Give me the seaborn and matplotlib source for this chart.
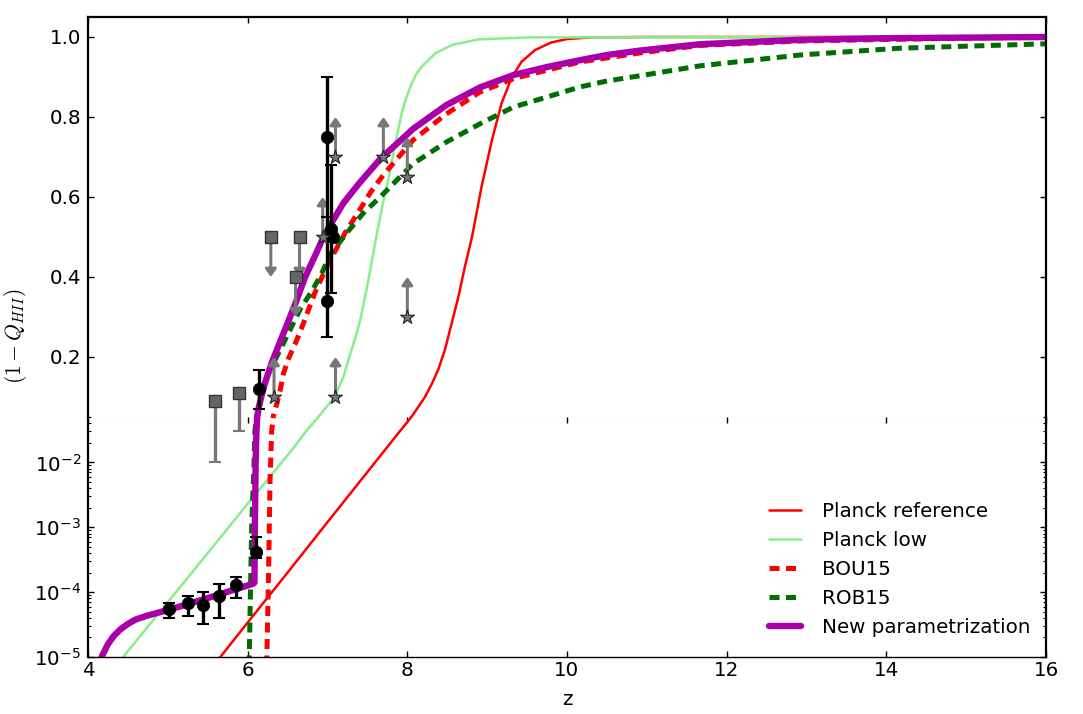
import numpy as np
import matplotlib
matplotlib.use("Agg")
import matplotlib.pyplot as plt
import seaborn as sns

# ---------------- data ----------------
planck_ref_z = [5.55, 6.0, 6.5, 7.0, 7.5, 7.9, 8.05, 8.14, 8.22, 8.31, 8.39, 8.47, 8.55,
                8.64, 8.72, 8.81, 8.93, 9.06, 9.18, 9.31, 9.43, 9.60, 9.8, 10.0, 10.3,
                11.0, 16.0]
planck_ref_v = [6.8e-6, 3.4e-5, 2.0e-4, 1.2e-3, 7.1e-3, 0.0295, 0.05, 0.076, 0.10, 0.134,
                0.17, 0.2175, 0.28, 0.351, 0.425, 0.50, 0.626, 0.7425, 0.834, 0.90, 0.938,
                0.9675, 0.986, 0.995, 0.999, 1.0, 1.0]

planck_low_z = [4.35, 4.44, 5.0, 5.5, 6.0, 6.55, 6.74, 6.885, 6.99, 7.09, 7.20, 7.30,
                7.36, 7.41, 7.46, 7.51, 7.56, 7.62, 7.70, 7.78, 7.85, 7.93, 7.99, 8.05,
                8.11, 8.18, 8.35, 8.56, 8.89, 9.52, 16.0]
planck_low_v = [7.3e-6, 1.0e-5, 7.0e-5, 4.0e-4, 2.3e-3, 0.0153, 0.031, 0.05, 0.076, 0.10,
                0.151, 0.2175, 0.255, 0.2925, 0.34, 0.39, 0.445, 0.51, 0.59, 0.66, 0.735,
                0.81, 0.85, 0.882, 0.907, 0.926, 0.959, 0.98, 0.994, 0.999, 1.0]

bou15_z = [6.23, 6.24, 6.26, 6.28, 6.30, 6.32, 6.36, 6.40, 6.45, 6.52, 6.61, 6.70, 6.84,
           7.0, 7.22, 7.41, 7.55, 7.70, 8.07, 8.49, 8.91, 9.33, 9.75, 10.16, 10.91, 11.67,
           12.92, 14.6, 16.0]
bou15_v = [1e-7, 1.0e-5, 1.5e-4, 5.0e-3, 0.03, 0.05, 0.08, 0.11, 0.16, 0.20, 0.24, 0.285,
           0.36, 0.43, 0.51, 0.57, 0.615, 0.655, 0.742, 0.808, 0.8625, 0.896, 0.917,
           0.9375, 0.96, 0.979, 0.99, 0.996, 1.0]

rob15_z = [6.02, 6.02, 6.05, 6.08, 6.09, 6.11, 6.14, 6.20, 6.28, 6.40, 6.53, 6.66, 6.82,
           6.93, 7.03, 7.24, 7.45, 7.66, 8.07, 8.49, 8.91, 9.33, 9.75, 10.16, 10.5, 10.91,
           11.67, 12.92, 14.17, 16.0]
rob15_v = [1e-7, 1.0e-5, 1.0e-3, 1.0e-2, 0.03, 0.05, 0.07, 0.126, 0.1675, 0.215, 0.2675,
           0.32, 0.37, 0.41, 0.455, 0.51, 0.56, 0.60, 0.683, 0.7375, 0.783, 0.825, 0.85,
           0.875, 0.89, 0.903, 0.928, 0.955, 0.972, 0.983]

newpar_z = [4.10, 4.17, 4.25, 4.32, 4.40, 4.50, 4.60, 4.75, 4.90, 5.02, 5.5, 6.07, 6.085,
            6.09, 6.10, 6.11, 6.12, 6.14, 6.17, 6.21, 6.25, 6.30, 6.40, 6.50, 6.60, 6.72,
            6.86, 6.95, 7.05, 7.2, 7.4, 7.66, 8.07, 8.49, 8.91, 9.33, 9.75, 10.16, 10.5,
            10.91, 11.67, 12.92, 14.0, 16.0]
newpar_v = [5.6e-6, 1.0e-5, 1.58e-5, 2.09e-5, 2.63e-5, 3.24e-5, 3.8e-5, 4.37e-5, 4.9e-5,
            5.37e-5, 8.1e-5, 1.35e-4, 1.4e-4, 1.0e-3, 1.0e-2, 0.03, 0.05, 0.075, 0.10,
            0.13, 0.155, 0.185, 0.235, 0.285, 0.335, 0.40, 0.46, 0.50, 0.535, 0.585, 0.635,
            0.695, 0.77, 0.83, 0.874, 0.905, 0.925, 0.942, 0.955, 0.966, 0.982, 0.993,
            0.997, 1.0]

# black points with error bars
circ_z = [5.02, 5.25, 5.44, 5.64, 5.85, 6.10, 6.14, 7.00, 7.04, 7.07, 7.00]
circ_v = [5.4e-5, 6.8e-5, 6.4e-5, 8.7e-5, 1.3e-4, 4.2e-4, 0.12, 0.75, 0.52, 0.50, 0.34]
circ_lo = [4.0e-5, 4.3e-5, 3.2e-5, 4.0e-5, 8.0e-5, 3.3e-4, 0.069, 0.55, 0.36, 0.50, 0.25]
circ_hi = [6.8e-5, 8.7e-5, 1.0e-4, 1.35e-4, 1.74e-4, 7.1e-4, 0.168, 0.90, 0.68, 0.50, 0.55]

# grey squares with lower bars (to a floor)
sqbar_z = [5.59, 5.89]
sqbar_v = [0.09, 0.11]
sqbar_lo = [0.01, 0.03]

# grey squares: upper limits (arrow down)
squl_z = [6.29, 6.65, 6.60]
squl_v = [0.50, 0.50, 0.40]

# grey stars: lower limits (arrow up)
star_z = [7.10, 7.70, 8.00, 6.94, 8.00, 7.10, 6.33]
star_v = [0.70, 0.70, 0.65, 0.50, 0.30, 0.10, 0.10]
arrow_len = 0.1

x_ticks = [4, 6, 8, 10, 12, 14, 16]
top_yticks = [0.2, 0.4, 0.6, 0.8, 1.0]
bot_yticks = [1e-5, 1e-4, 1e-3, 1e-2]

labels = ["Planck reference", "Planck low", "BOU15", "ROB15", "New parametrization"]

# ---------------- style ----------------
sns.set_theme(style="ticks")
plt.rcParams.update({
    "font.family": ["DejaVu Sans"],
    "font.size": 14,
    "text.color": "black",
    "axes.labelcolor": "black",
    "axes.linewidth": 1.6,
    "xtick.direction": "in", "ytick.direction": "in",
    "xtick.top": True, "ytick.right": True,
    "xtick.major.size": 4.5, "ytick.major.size": 4.5,
    "xtick.minor.size": 2.2, "ytick.minor.size": 2.2,
    "xtick.major.width": 1.0, "ytick.major.width": 1.0,
    "xtick.minor.width": 0.8, "ytick.minor.width": 0.8,
    "xtick.labelsize": 14.3, "ytick.labelsize": 14.3,
    "xtick.major.pad": 3, "ytick.major.pad": 5,
    "xtick.color": "black", "ytick.color": "black",
    "axes.edgecolor": "black",
    "lines.scale_dashes": True,
})

fig = plt.figure(figsize=(10.83, 7.14), dpi=100)
left, width = 88 / 1083, (1046 - 88) / 1083
ax_top = fig.add_axes([left, 1 - 417 / 714, width, (417 - 17) / 714])
ax_bot = fig.add_axes([left, 1 - 657 / 714, width, (657 - 417) / 714])
ax_bot.set_yscale("log")

purple = "#AA00AA"
dgreen = "#006E00"
curves = [
    (planck_ref_z, planck_ref_v, dict(color="#FF0000", lw=1.8), None),
    (planck_low_z, planck_low_v, dict(color="#88EE88", lw=1.8), None),
    (bou15_z, bou15_v, dict(color="#FF0000", lw=3.6), (2.0, 1.3)),
    (rob15_z, rob15_v, dict(color=dgreen, lw=3.6), (2.0, 1.3)),
    (newpar_z, newpar_v, dict(color=purple, lw=4.6), None),
]

handles = []
for ax in (ax_top, ax_bot):
    for (zz, vv, kw, dash) in curves:
        sns.lineplot(x=np.array(zz), y=np.array(vv), ax=ax, estimator=None,
                     sort=False, legend=False, zorder=2, **kw)
        ln = ax.lines[-1]
        if dash is not None:
            ln.set_linestyle((0, dash))
            ln.set_dash_capstyle("butt")
        if ax is ax_bot:
            handles.append(ln)

    # black points with error bars
    cz = np.array(circ_z); cv = np.array(circ_v)
    yerr = [cv - np.array(circ_lo), np.array(circ_hi) - cv]
    ax.errorbar(cz, cv, yerr=yerr, fmt="none", ecolor="black", elinewidth=2.4,
                capsize=4.5, capthick=1.5, zorder=5)
    sns.scatterplot(x=cz, y=cv, ax=ax, marker="o", s=80, color="black",
                    edgecolor="black", linewidth=0.5, zorder=6, legend=False)

    # grey squares with floor bars
    sz = np.array(sqbar_z); sv = np.array(sqbar_v)
    ax.errorbar(sz, sv, yerr=[sv - np.array(sqbar_lo), np.zeros_like(sv)], fmt="none",
                ecolor="#777777", elinewidth=2.4, capsize=4.5, capthick=1.5, zorder=4)
    sns.scatterplot(x=sz, y=sv, ax=ax, marker="s", s=80, color="#666666",
                    edgecolor="#333333", linewidth=1.0, zorder=6, legend=False)

# arrows (top axis only)
for zz, vv in zip(squl_z, squl_v):
    ax_top.annotate("", xy=(zz, vv - arrow_len), xytext=(zz, vv),
                    arrowprops=dict(arrowstyle="-|>,head_width=0.32,head_length=0.45",
                                    color="#777777", lw=2.2, shrinkA=0, shrinkB=0,
                                    mutation_scale=10), zorder=4)
for zz, vv in zip(star_z, star_v):
    ax_top.annotate("", xy=(zz, vv + arrow_len), xytext=(zz, vv),
                    arrowprops=dict(arrowstyle="-|>,head_width=0.32,head_length=0.45",
                                    color="#777777", lw=2.2, shrinkA=0, shrinkB=0,
                                    mutation_scale=10), zorder=4)
sns.scatterplot(x=np.array(squl_z), y=np.array(squl_v), ax=ax_top, marker="s", s=80,
                color="#666666", edgecolor="#333333", linewidth=1.0, zorder=6, legend=False)
sns.scatterplot(x=np.array(star_z), y=np.array(star_v), ax=ax_top, marker="*", s=110,
                color="#777777", edgecolor="#222222", linewidth=0.8, zorder=6, legend=False)

# ---------------- axes cosmetics ----------------
for ax in (ax_top, ax_bot):
    ax.set_xlim(4, 16)
    ax.set_xticks(x_ticks)
    ax.set_xlabel("")
    ax.set_ylabel("")

ax_top.set_ylim(0.05, 1.05)
ax_top.set_yticks(top_yticks)
ax_top.set_yticklabels([f"{t:.1f}" for t in top_yticks])
ax_top.tick_params(axis="x", bottom=False, labelbottom=False, top=True)
ax_top.spines["bottom"].set_linestyle((0, (1.5, 3)))
ax_top.spines["bottom"].set_color("#bbbbbb")
ax_top.spines["bottom"].set_linewidth(0.8)

ax_bot.set_ylim(1e-5, 0.05)
ax_bot.set_yticks(bot_yticks)
ax_bot.spines["top"].set_visible(False)
ax_bot.spines["bottom"].set_linewidth(1.0)
ax_bot.tick_params(axis="x", top=True, bottom=True)
ax_bot.set_xticklabels([str(t) for t in x_ticks])
ax_bot.set_xlabel("z", fontsize=14.3, labelpad=7)

fig.text(0.014, 1 - 336 / 714, r"$(1-Q_{HII})$", rotation=90, va="center", ha="center",
         fontsize=15.5, math_fontfamily="cm")

ax_bot.legend(handles, labels, loc="lower right", frameon=False, fontsize=14.3,
              handlelength=1.6, handletextpad=1.05, labelspacing=0.5,
              borderaxespad=0.3, bbox_to_anchor=(1 - 2 / 958, 6 / 240))

fig.savefig("out.png", dpi=100)
